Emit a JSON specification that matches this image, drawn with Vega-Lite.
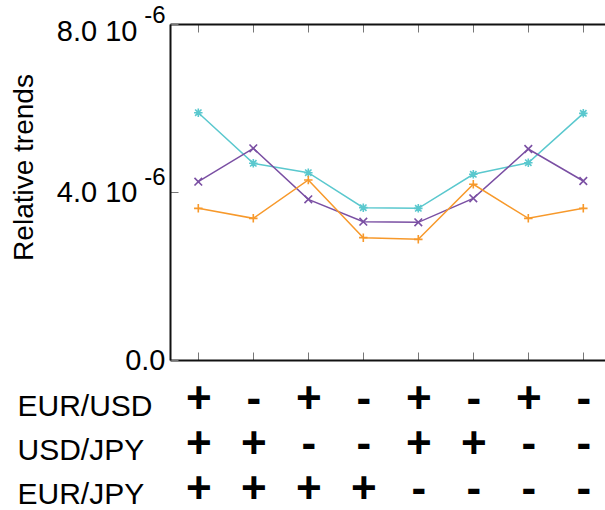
{
  "$schema": "https://vega.github.io/schema/vega-lite/v6.json",
  "width": 435,
  "height": 336,
  "autosize": {"type": "none"},
  "padding": {"left": 170, "top": 24, "right": 0, "bottom": 150},
  "config": {
    "view": {"stroke": null},
    "font": "Liberation Sans",
    "axis": {"grid": false, "labelColor": "black", "titleColor": "black", "domainColor": "#111111", "domainWidth": 2, "tickColor": "#777777", "tickWidth": 1}
  },
  "data": {
    "values": [
      {"combo": "+ + +", "series": "Series A", "value": 5.888e-6},
      {"combo": "- + +", "series": "Series A", "value": 4.683e-6},
      {"combo": "+ - +", "series": "Series A", "value": 4.460e-6},
      {"combo": "- - +", "series": "Series A", "value": 3.627e-6},
      {"combo": "+ + -", "series": "Series A", "value": 3.611e-6},
      {"combo": "- + -", "series": "Series A", "value": 4.421e-6},
      {"combo": "+ - -", "series": "Series A", "value": 4.698e-6},
      {"combo": "- - -", "series": "Series A", "value": 5.873e-6},
      {"combo": "+ + +", "series": "Series B", "value": 4.246e-6},
      {"combo": "- + +", "series": "Series B", "value": 5.040e-6},
      {"combo": "+ - +", "series": "Series B", "value": 3.825e-6},
      {"combo": "- - +", "series": "Series B", "value": 3.294e-6},
      {"combo": "+ + -", "series": "Series B", "value": 3.278e-6},
      {"combo": "- + -", "series": "Series B", "value": 3.849e-6},
      {"combo": "+ - -", "series": "Series B", "value": 5.024e-6},
      {"combo": "- - -", "series": "Series B", "value": 4.262e-6},
      {"combo": "+ + +", "series": "Series C", "value": 3.611e-6},
      {"combo": "- + +", "series": "Series C", "value": 3.373e-6},
      {"combo": "+ - +", "series": "Series C", "value": 4.286e-6},
      {"combo": "- - +", "series": "Series C", "value": 2.913e-6},
      {"combo": "+ + -", "series": "Series C", "value": 2.873e-6},
      {"combo": "- + -", "series": "Series C", "value": 4.183e-6},
      {"combo": "+ - -", "series": "Series C", "value": 3.373e-6},
      {"combo": "- - -", "series": "Series C", "value": 3.611e-6}
    ]
  },
  "layer": [
    {
      "mark": {"type": "line", "strokeWidth": 1.5},
      "encoding": {
        "x": {
          "field": "combo", "type": "nominal", "sort": null,
          "scale": {"type": "point", "padding": 0.4545, "align": 0.566},
          "axis": {
            "orient": "bottom",
            "title": ["EUR/USD", "USD/JPY", "EUR/JPY"],
            "titleFontSize": 30, "titleFontWeight": "normal", "titleAngle": 0,
            "titleAlign": "left", "titleBaseline": "alphabetic", "titleLineHeight": 44,
            "titleX": -153, "titleY": 55,
            "labelExpr": "split(datum.label, ' ')",
            "labelFontSize": 44, "labelFontWeight": "bold", "labelLineHeight": 45,
            "labelAngle": 0, "labelBaseline": "alphabetic", "labelPadding": 60,
            "labelOverlap": false,
            "tickSize": -8
          }
        },
        "y": {
          "field": "value", "type": "quantitative",
          "scale": {"domain": [0, 8e-6], "nice": false, "zero": true},
          "axis": {
            "orient": "left",
            "values": [0, 4e-6, 8e-6],
            "labelExpr": "datum.value == 0 ? '0.0' : format(datum.value * 1e6, '.1f') + ' 10'",
            "labelFontSize": 29,
            "labelPadding": {"condition": {"test": "datum.value > 0", "value": 41}, "value": 13},
            "labelOffset": {"condition": {"test": "datum.value > 7e-6", "value": 7}, "value": 0},
            "labelBaseline": "middle",
            "tickSize": -8,
            "title": "Relative trends",
            "titleFontSize": 28, "titleFontWeight": "normal",
            "titleAngle": -90, "titleAlign": "center", "titleBaseline": "alphabetic",
            "titleX": -138, "titleY": 143
          }
        },
        "color": {
          "field": "series", "type": "nominal",
          "scale": {"domain": ["Series A", "Series B", "Series C"], "range": ["#5ac8ce", "#7a4fa3", "#f7992b"]},
          "legend": null
        }
      }
    },
    {
      "mark": {"type": "point", "filled": false, "strokeWidth": 1.6, "size": 72, "opacity": 1},
      "encoding": {
        "x": {
          "field": "combo", "type": "nominal", "sort": null,
          "scale": {"type": "point", "padding": 0.4545, "align": 0.566},
          "axis": {"orient": "top", "labels": false, "title": null, "tickSize": -8}
        },
        "y": {
          "field": "value", "type": "quantitative",
          "scale": {"domain": [0, 8e-6], "nice": false, "zero": true},
          "axis": {
            "orient": "left",
            "values": [0, 4e-6, 8e-6],
            "labelExpr": "datum.value == 0 ? '' : '-6'",
            "labelFontSize": 24,
            "labelPadding": 5,
            "labelOffset": {"condition": {"test": "datum.value > 7e-6", "value": -9}, "value": -15},
            "labelBaseline": "middle",
            "ticks": false, "domain": false, "title": null
          }
        },
        "color": {
          "field": "series", "type": "nominal",
          "scale": {"domain": ["Series A", "Series B", "Series C"], "range": ["#5ac8ce", "#7a4fa3", "#f7992b"]},
          "legend": null
        },
        "shape": {
          "field": "series", "type": "nominal",
          "scale": {"domain": ["Series A", "Series B", "Series C"], "range": ["M-1,0H1M0,-1V1M-0.75,-0.75L0.75,0.75M-0.75,0.75L0.75,-0.75", "M-0.9,-0.9L0.9,0.9M-0.9,0.9L0.9,-0.9", "M-1,0H1M0,-1V1"]},
          "legend": null
        }
      }
    }
  ],
  "resolve": {"axis": {"x": "independent", "y": "independent"}}
}
